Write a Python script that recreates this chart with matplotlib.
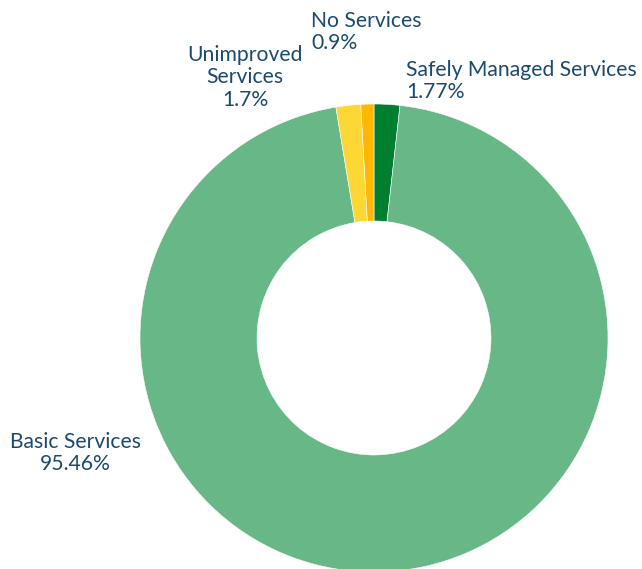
import matplotlib
matplotlib.use("Agg")
import matplotlib.pyplot as plt

categories = ["Safely Managed Services", "Basic Services", "Unimproved\nServices", "No Services"]
values = [1.77, 95.46, 1.7, 0.9]
value_labels = ["1.77%", "95.46%", "1.7%", "0.9%"]
colors = ["#00802f", "#67b787", "#fdd835", "#ffb703"]

plt.rcParams['font.family'] = ['Lato', 'DejaVu Sans']
W, H = 642, 569
fig = plt.figure(figsize=(W / 100, H / 100), dpi=100)
ax = fig.add_axes([0, 0, 1, 1])

cx, cy, R = 374, 338, 234
# y axis is inverted (pixel coords), so angles are mirrored: start at -90, go "counterclock"
ax.pie(values, colors=colors, startangle=-90, counterclock=True,
       center=(cx, cy), radius=R, frame=True,
       wedgeprops=dict(width=R * 0.5, edgecolor='white', linewidth=0.4))
ax.set_xlim(0, W)
ax.set_ylim(H, 0)
ax.set_aspect('equal')
ax.axis('off')

txtc = "#1b4a70"
fs = 15.2
ls = 1.15
label_pos = [
    (406, 60, 'left', 'left'),
    (10, 432, 'left', 'center'),
    (245, 45, 'center', 'center'),
    (311, 11, 'left', 'left'),
]
for cat, vl, (x, y, ha, ma) in zip(categories, value_labels, label_pos):
    ax.text(x, y, f"{cat}\n{vl}", ha=ha, va='top', fontsize=fs, color=txtc,
            linespacing=ls, multialignment=ma)

fig.savefig("out.png", dpi=100)
